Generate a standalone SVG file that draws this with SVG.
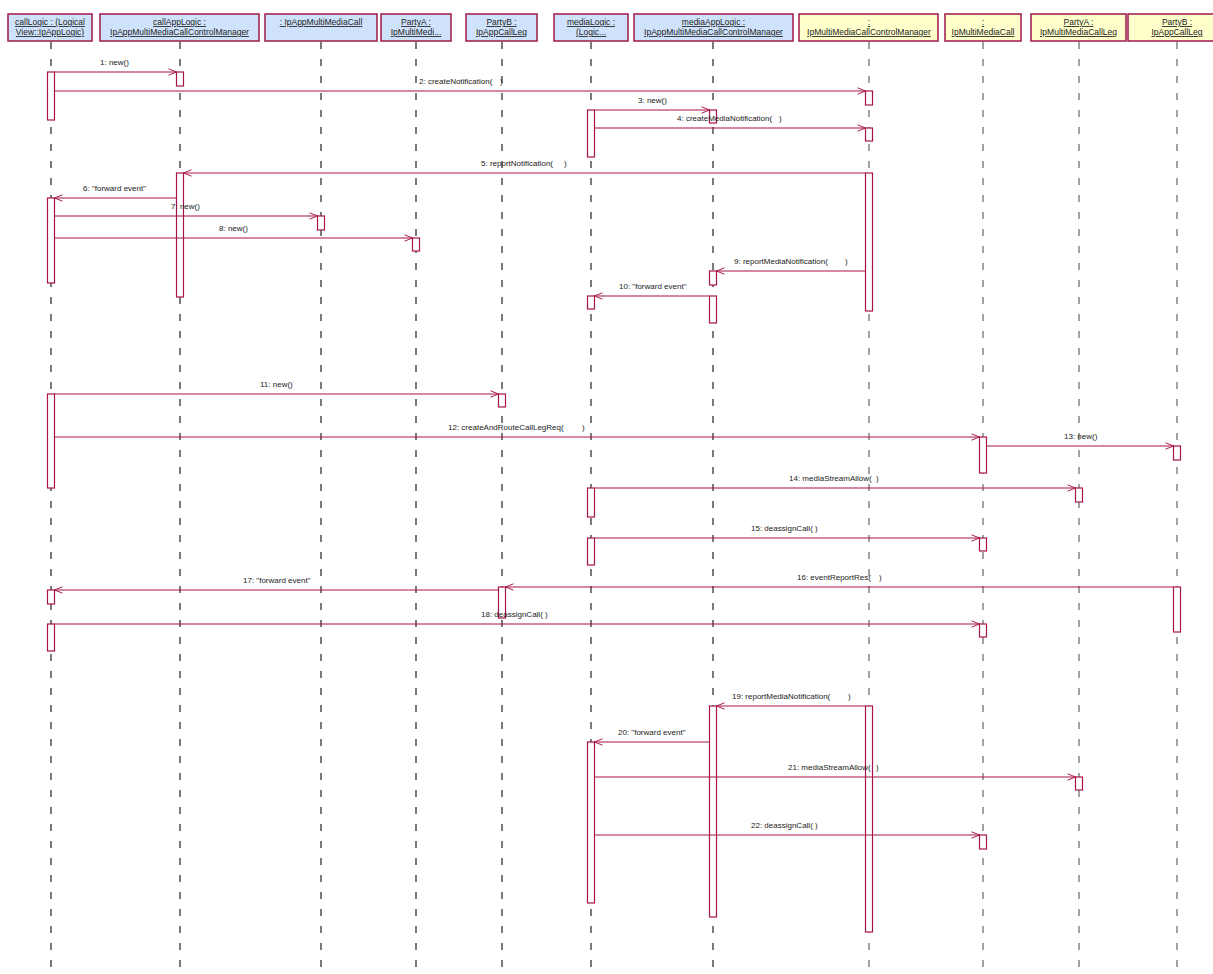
<svg xmlns="http://www.w3.org/2000/svg" width="1213" height="974" viewBox="0 0 1213 974">
<defs>
<style>
.hb{fill:#cfe2fb;stroke:#a01848;stroke-width:1.5}
.hy{fill:#ffffcc;stroke:#a01848;stroke-width:1.5}
.ht{font-family:"Liberation Sans",Arial,sans-serif;font-size:8.5px;fill:#222;text-anchor:middle;text-decoration:underline}
.ll{stroke:#222;stroke-width:1.2;stroke-dasharray:7 10;fill:none}
.llg{stroke:#666;stroke-width:1.2;stroke-dasharray:7 10;fill:none}
.act{fill:#fff;stroke:#a8144a;stroke-width:1.2}
.msg{stroke:#a8144a;stroke-width:1.2;fill:none;marker-end:url(#arr)}
.ml{font-family:"Liberation Sans",Arial,sans-serif;font-size:8px;fill:#222;white-space:pre}
</style>
<marker id="arr" viewBox="0 0 10 10" refX="10" refY="5" markerWidth="10" markerHeight="8" markerUnits="userSpaceOnUse" orient="auto">
<path d="M0,1 L10,5 L0,9" fill="none" stroke="#a8144a" stroke-width="1.2"/>
</marker>
</defs>
<rect width="1213" height="974" fill="#fff"/>

<g id="lifelines">
<line class="ll" x1="51" y1="42" x2="51" y2="974"/>
<line class="ll" x1="180" y1="42" x2="180" y2="974"/>
<line class="ll" x1="321" y1="42" x2="321" y2="974"/>
<line class="ll" x1="416" y1="42" x2="416" y2="974"/>
<line class="ll" x1="502" y1="42" x2="502" y2="974"/>
<line class="ll" x1="591" y1="42" x2="591" y2="974"/>
<line class="ll" x1="713" y1="42" x2="713" y2="974"/>
<line class="llg" x1="869" y1="42" x2="869" y2="974"/>
<line class="llg" x1="983" y1="42" x2="983" y2="974"/>
<line class="llg" x1="1079" y1="42" x2="1079" y2="974"/>
<line class="llg" x1="1177" y1="42" x2="1177" y2="974"/>
</g>

<g id="n_callLogic">
<rect class="hb" x="8" y="14" width="84" height="27"/>
<text class="ht" x="50" y="25">callLogic : (Logical</text>
<text class="ht" x="50" y="35">View::IpAppLogic)</text>
<rect class="act" x="47.5" y="72" width="7" height="48"/>
<rect class="act" x="47.5" y="198" width="7" height="85"/>
<rect class="act" x="47.5" y="394" width="7" height="94"/>
<rect class="act" x="47.5" y="590" width="7" height="14"/>
<rect class="act" x="47.5" y="624" width="7" height="27"/>
</g>
<g id="n_callAppLogic">
<rect class="hb" x="100" y="14" width="159" height="27"/>
<text class="ht" x="179.5" y="25">callAppLogic :</text>
<text class="ht" x="179.5" y="35">IpAppMultiMediaCallControlManager</text>
<rect class="act" x="176.5" y="72" width="7" height="14"/>
<rect class="act" x="176.5" y="173" width="7" height="124"/>
</g>
<g id="n_appMMCall">
<rect class="hb" x="265" y="14" width="112" height="27"/>
<text class="ht" x="321" y="25">: IpAppMultiMediaCall</text>
<rect class="act" x="317.5" y="216" width="7" height="14"/>
</g>
<g id="n_partyA1">
<rect class="hb" x="381" y="14" width="70" height="27"/>
<text class="ht" x="416" y="25">PartyA :</text>
<text class="ht" x="416" y="35">IpMultiMedi...</text>
<rect class="act" x="412.5" y="238" width="7" height="13"/>
</g>
<g id="n_partyB1">
<rect class="hb" x="466" y="14" width="71" height="27"/>
<text class="ht" x="501.5" y="25">PartyB :</text>
<text class="ht" x="501.5" y="35">IpAppCallLeg</text>
<rect class="act" x="498.5" y="394" width="7" height="13"/>
<rect class="act" x="498.5" y="587" width="7" height="31"/>
</g>
<g id="n_mediaLogic">
<rect class="hb" x="554" y="14" width="74" height="27"/>
<text class="ht" x="591" y="25">mediaLogic :</text>
<text class="ht" x="591" y="35">(Logic...</text>
<rect class="act" x="587.5" y="110" width="7" height="47"/>
<rect class="act" x="587.5" y="296" width="7" height="13"/>
<rect class="act" x="587.5" y="488" width="7" height="29"/>
<rect class="act" x="587.5" y="538" width="7" height="27"/>
<rect class="act" x="587.5" y="742" width="7" height="161"/>
</g>
<g id="n_mediaAppLogic">
<rect class="hb" x="634" y="14" width="159" height="27"/>
<text class="ht" x="713.5" y="25">mediaAppLogic :</text>
<text class="ht" x="713.5" y="35">IpAppMultiMediaCallControlManager</text>
<rect class="act" x="709.5" y="110" width="7" height="13"/>
<rect class="act" x="709.5" y="271" width="7" height="14"/>
<rect class="act" x="709.5" y="296" width="7" height="27"/>
<rect class="act" x="709.5" y="706" width="7" height="211"/>
</g>
<g id="n_mmccm">
<rect class="hy" x="799" y="14" width="139" height="27"/>
<text class="ht" x="869" y="25">:</text>
<text class="ht" x="869" y="35">IpMultiMediaCallControlManager</text>
<rect class="act" x="865.5" y="91" width="7" height="14"/>
<rect class="act" x="865.5" y="128" width="7" height="13"/>
<rect class="act" x="865.5" y="173" width="7" height="138"/>
<rect class="act" x="865.5" y="706" width="7" height="226"/>
</g>
<g id="n_mmCall">
<rect class="hy" x="945" y="14" width="76" height="27"/>
<text class="ht" x="983" y="25">:</text>
<text class="ht" x="983" y="35">IpMultiMediaCall</text>
<rect class="act" x="979.5" y="437" width="7" height="36"/>
<rect class="act" x="979.5" y="538" width="7" height="13"/>
<rect class="act" x="979.5" y="624" width="7" height="13"/>
<rect class="act" x="979.5" y="835" width="7" height="14"/>
</g>
<g id="n_partyA2">
<rect class="hy" x="1031" y="14" width="95" height="27"/>
<text class="ht" x="1078.5" y="25">PartyA :</text>
<text class="ht" x="1078.5" y="35">IpMultiMediaCallLeg</text>
<rect class="act" x="1075.5" y="488" width="7" height="14"/>
<rect class="act" x="1075.5" y="777" width="7" height="13"/>
</g>
<g id="n_partyB2">
<rect class="hy" x="1128" y="14" width="98" height="27"/>
<text class="ht" x="1177" y="25">PartyB :</text>
<text class="ht" x="1177" y="35">IpAppCallLeg</text>
<rect class="act" x="1173.5" y="446" width="7" height="14"/>
<rect class="act" x="1173.5" y="587" width="7" height="45"/>
</g>

<g id="connectors">
<line class="msg" x1="54.5" y1="72" x2="176.5" y2="72"/>
<line class="msg" x1="54.5" y1="91" x2="865.5" y2="91"/>
<line class="msg" x1="594.5" y1="110" x2="709.5" y2="110"/>
<line class="msg" x1="594.5" y1="128" x2="865.5" y2="128"/>
<line class="msg" x1="865.5" y1="173" x2="183.5" y2="173"/>
<line class="msg" x1="176.5" y1="198" x2="54.5" y2="198"/>
<line class="msg" x1="54.5" y1="216" x2="317.5" y2="216"/>
<line class="msg" x1="54.5" y1="238" x2="412.5" y2="238"/>
<line class="msg" x1="865.5" y1="271" x2="716.5" y2="271"/>
<line class="msg" x1="709.5" y1="296" x2="594.5" y2="296"/>
<line class="msg" x1="54.5" y1="394" x2="498.5" y2="394"/>
<line class="msg" x1="54.5" y1="437" x2="979.5" y2="437"/>
<line class="msg" x1="986.5" y1="446" x2="1173.5" y2="446"/>
<line class="msg" x1="594.5" y1="488" x2="1075.5" y2="488"/>
<line class="msg" x1="594.5" y1="538" x2="979.5" y2="538"/>
<line class="msg" x1="1173.5" y1="587" x2="505.5" y2="587"/>
<line class="msg" x1="498.5" y1="590" x2="54.5" y2="590"/>
<line class="msg" x1="54.5" y1="624" x2="979.5" y2="624"/>
<line class="msg" x1="865.5" y1="706" x2="716.5" y2="706"/>
<line class="msg" x1="709.5" y1="742" x2="594.5" y2="742"/>
<line class="msg" x1="594.5" y1="777" x2="1075.5" y2="777"/>
<line class="msg" x1="594.5" y1="835" x2="979.5" y2="835"/>
</g>

<g id="labels">
<text class="ml" x="100" y="65">1: new()</text>
<text class="ml" x="419" y="84">2: createNotification(<tspan x="500">)</tspan></text>
<text class="ml" x="638" y="103">3: new()</text>
<text class="ml" x="677" y="121">4: createMediaNotification(<tspan x="779">)</tspan></text>
<text class="ml" x="481" y="166">5: reportNotification(<tspan x="564">)</tspan></text>
<text class="ml" x="83" y="191">6: "forward event"</text>
<text class="ml" x="171" y="209">7: new()</text>
<text class="ml" x="219" y="231">8: new()</text>
<text class="ml" x="734" y="264">9: reportMediaNotification(<tspan x="845">)</tspan></text>
<text class="ml" x="619" y="289">10: "forward event"</text>
<text class="ml" x="260" y="387">11: new()</text>
<text class="ml" x="448" y="430">12: createAndRouteCallLegReq(<tspan x="582">)</tspan></text>
<text class="ml" x="1064" y="439">13: new()</text>
<text class="ml" x="789" y="481">14: mediaStreamAllow(<tspan x="876">)</tspan></text>
<text class="ml" x="751" y="531">15: deassignCall( )</text>
<text class="ml" x="797" y="580">16: eventReportRes(<tspan x="879">)</tspan></text>
<text class="ml" x="243" y="583">17: "forward event"</text>
<text class="ml" x="481" y="617">18: deassignCall( )</text>
<text class="ml" x="732" y="699">19: reportMediaNotification(<tspan x="848">)</tspan></text>
<text class="ml" x="618" y="735">20: "forward event"</text>
<text class="ml" x="788" y="770">21: mediaStreamAllow(<tspan x="876">)</tspan></text>
<text class="ml" x="751" y="828">22: deassignCall( )</text>
</g>
</svg>
